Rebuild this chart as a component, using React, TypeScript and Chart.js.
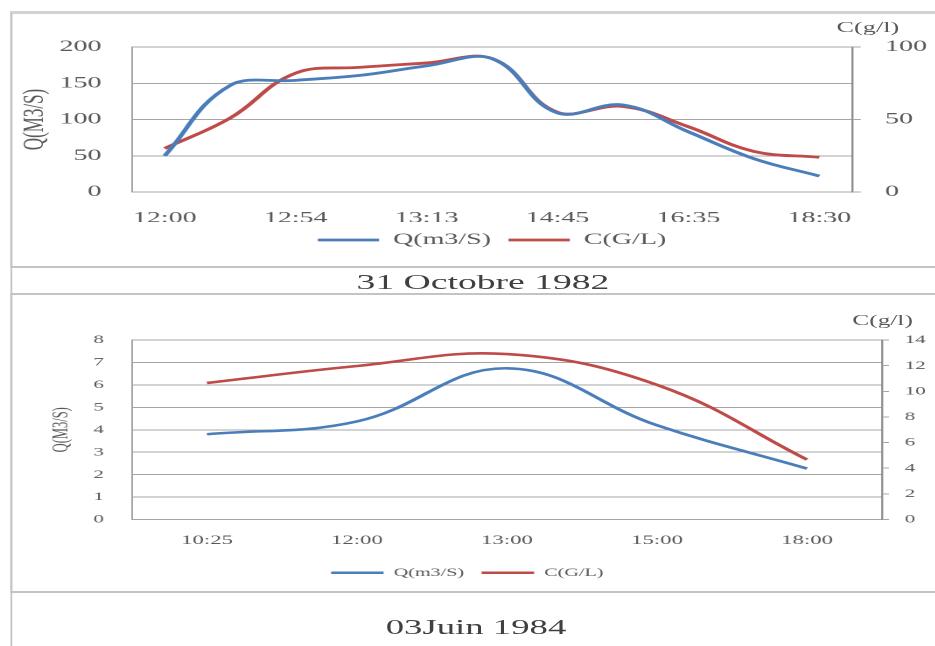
import React, { useEffect, useRef } from 'react';
import { Chart, registerables } from 'chart.js';

Chart.register(...registerables);

// ---------- data ----------
// 31 Octobre 1982 (only every second time label is printed on the original axis)
const octCategories = ['12:00', '', '12:54', '', '13:13', '', '14:45', '', '16:35', '', '18:30'];
const octQ = [50, 147, 154, 161, 174, 184, 109, 120, 83, 46, 22];
const octC = [30, 51, 82, 86, 89, 92, 55, 59, 45, 28, 24];
const octQTicks = [0, 50, 100, 150, 200];
const octCTicks = [0, 50, 100];

// 03 Juin 1984
const junCategories = ['10:25', '12:00', '13:00', '15:00', '18:00'];
const junQ = [3.8, 4.37, 6.74, 4.2, 2.27];
const junC = [10.65, 11.97, 12.9, 10.5, 4.67];
const junQTicks = [0, 1, 2, 3, 4, 5, 6, 7, 8];
const junCTicks = [0, 2, 4, 6, 8, 10, 12, 14];

const seriesQName = 'Q(m3/S)';
const seriesCName = 'C(G/L)';

// ---------- style ----------
const S = 1.75; // horizontal stretch of the original picture
const W = 534;
const FONT = "'Liberation Serif', 'Times New Roman', serif";
const TXT = '#595959';
const GRID = '#a6a6a6';
const BLUE = '#4a7ebb';
const RED = '#be4b48';

function makeConfig(p: any) {
  return {
    type: 'line',
    data: {
      labels: p.labels,
      datasets: [
        { label: seriesQName, data: p.q, yAxisID: 'y', borderColor: BLUE, backgroundColor: BLUE, borderWidth: p.lineW, pointRadius: 0, tension: 0.4 },
        { label: seriesCName, data: p.c, yAxisID: 'y1', borderColor: RED, backgroundColor: RED, borderWidth: p.lineW, pointRadius: 0, tension: 0.4 },
      ],
    },
    options: {
      responsive: false,
      maintainAspectRatio: false,
      animation: false,
      devicePixelRatio: 2,
      layout: { padding: { left: 0, right: 0, top: p.top, bottom: p.pb } },
      plugins: {
        legend: {
          position: 'bottom',
          fullSize: p.legendFull,
          labels: {
            usePointStyle: true,
            pointStyle: 'line',
            pointStyleWidth: p.legendLine,
            padding: 10,
            color: TXT,
            font: { family: FONT, size: p.legendSize },
          },
        },
        tooltip: { enabled: false },
      },
      scales: {
        x: {
          offset: true,
          grid: { display: false, drawTicks: false },
          border: { display: true, color: GRID, width: 1 },
          ticks: { autoSkip: false, maxRotation: 0, padding: p.xPad, color: TXT, font: { family: FONT, size: p.xSize } },
          afterFit: (s: any) => { s.height = p.xHeight; },
        },
        y: {
          position: 'left',
          min: p.qTicks[0],
          max: p.qTicks[p.qTicks.length - 1],
          afterBuildTicks: (s: any) => { s.ticks = p.qTicks.map((v: number) => ({ value: v })); },
          ticks: { padding: p.yPad, color: TXT, font: { family: FONT, size: p.ySize } },
          grid: { color: GRID, drawTicks: false },
          border: { display: true, color: GRID },
          title: { display: true, text: 'Q(M3/S)', color: TXT, font: { family: FONT, size: p.titleSize }, padding: { top: p.titlePad, bottom: 0 } },
          afterFit: (s: any) => { s.width = p.left; },
        },
        y1: {
          position: 'right',
          min: p.cTicks[0],
          max: p.cTicks[p.cTicks.length - 1],
          afterBuildTicks: (s: any) => { s.ticks = p.cTicks.map((v: number) => ({ value: v })); },
          ticks: { padding: p.y1Pad, color: TXT, font: { family: FONT, size: p.ySize } },
          grid: { drawOnChartArea: false, drawTicks: true, tickLength: p.tickLen, color: GRID },
          border: { display: true, color: '#8f8f8f', width: 1.2 },
          afterFit: (s: any) => { s.width = W - p.right; },
        },
      },
    },
  };
}

function LineChart({ params, top, height }: any) {
  const ref = useRef<HTMLCanvasElement>(null);
  useEffect(() => {
    if (!ref.current) return;
    const chart = new Chart(ref.current, makeConfig(params) as any);
    return () => chart.destroy();
  }, []);
  return (
    <div style={{ position: 'absolute', left: 0, top, width: W, height }}>
      <canvas ref={ref} width={W} height={height} style={{ width: W, height }} />
    </div>
  );
}

const topParams = {
  labels: octCategories, q: octQ, c: octC, qTicks: octQTicks, cTicks: octCTicks,
  top: 47, pb: 4, left: 75.4, right: 486.9, lineW: 2.8,
  xHeight: 30, xPad: 16.9, xSize: 16, yPad: 17.4, y1Pad: 13.8, ySize: 16, tickLen: 5,
  titleSize: 17, titlePad: 9.8, legendSize: 16, legendLine: 35, legendFull: false,
};

const bottomParams = {
  labels: junCategories, q: junQ, c: junC, qTicks: junQTicks, cTicks: junCTicks,
  top: 50, pb: 11.5, left: 75.4, right: 504, lineW: 2.6,
  xHeight: 37.5, xPad: 13.2, xSize: 13, yPad: 16, y1Pad: 9, ySize: 12, tickLen: 4,
  titleSize: 12.5, titlePad: 27.9, legendSize: 11.5, legendLine: 30, legendFull: true,
};

export default function App() {
  const line = '#c4c4c4';
  const L = 10 / S;
  return (
    <div style={{ position: 'absolute', left: 0, top: 0, width: W, height: 646, overflow: 'visible', transform: `scaleX(${S})`, transformOrigin: '0 0', background: '#fff', fontFamily: FONT }}>
      {/* outer left rule */}
      <div style={{ position: 'absolute', left: L, top: 12, width: 1.2, height: 634, background: line }} />
      {/* top box */}
      <div style={{ position: 'absolute', left: L, top: 11, width: W, height: 257, borderTop: '3px solid #d2d2d2', borderLeft: `1.2px solid ${line}`, borderBottom: `2px solid ${line}`, boxSizing: 'border-box' }} />
      {/* bottom box */}
      <div style={{ position: 'absolute', left: L, top: 293, width: W, height: 300, borderTop: `2px solid ${line}`, borderLeft: `1.2px solid ${line}`, borderBottom: `2px solid ${line}`, boxSizing: 'border-box' }} />

      <LineChart params={topParams} top={0} height={262} />
      <LineChart params={bottomParams} top={290} height={310} />

      <div style={{ position: 'absolute', left: 478, top: 17, fontSize: 15, color: TXT, lineHeight: '20px', whiteSpace: 'nowrap' }}>C(g/l)</div>
      <div style={{ position: 'absolute', left: 487, top: 311, fontSize: 14.5, color: TXT, lineHeight: '18px', whiteSpace: 'nowrap' }}>C(g/l)</div>

      <div style={{ position: 'absolute', left: 0, width: 552, top: 268, textAlign: 'center', fontSize: 21.5, color: '#404040', lineHeight: '28px', whiteSpace: 'nowrap' }}>31 Octobre 1982</div>
      <div style={{ position: 'absolute', left: 0, width: 544, top: 613, textAlign: 'center', fontSize: 21, color: '#404040', lineHeight: '28px', whiteSpace: 'nowrap' }}>03Juin 1984</div>
    </div>
  );
}
